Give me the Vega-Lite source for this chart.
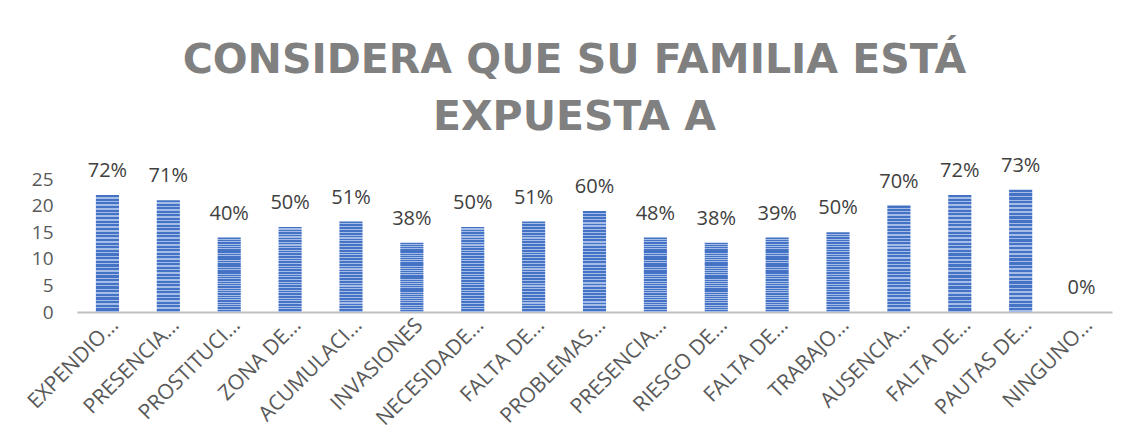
{
  "$schema": "https://vega.github.io/schema/vega-lite/v6.json",
  "width": 1035,
  "height": 133,
  "autosize": {"type": "none"},
  "padding": {"left": 77, "top": 179, "right": 24, "bottom": 136},
  "background": "#ffffff",
  "title": {
    "text": ["CONSIDERA QUE SU FAMILIA ESTÁ", "EXPUESTA A"],
    "font": "DejaVu Sans",
    "fontSize": 41,
    "fontWeight": "bold",
    "color": "#808080",
    "anchor": "middle",
    "dx": -20,
    "lineHeight": 57,
    "offset": 17
  },
  "config": {
    "view": {"stroke": null},
    "font": "Open Sans"
  },
  "data": {
    "values": [
      {"categoria": "EXPENDIO…", "cantidad": 22, "porcentaje": "72%"},
      {"categoria": "PRESENCIA…", "cantidad": 21, "porcentaje": "71%"},
      {"categoria": "PROSTITUCI…", "cantidad": 14, "porcentaje": "40%"},
      {"categoria": "ZONA DE…", "cantidad": 16, "porcentaje": "50%"},
      {"categoria": "ACUMULACI…", "cantidad": 17, "porcentaje": "51%"},
      {"categoria": "INVASIONES", "cantidad": 13, "porcentaje": "38%"},
      {"categoria": "NECESIDADE…", "cantidad": 16, "porcentaje": "50%"},
      {"categoria": "FALTA DE…", "cantidad": 17, "porcentaje": "51%"},
      {"categoria": "PROBLEMAS…", "cantidad": 19, "porcentaje": "60%"},
      {"categoria": "PRESENCIA… ", "cantidad": 14, "porcentaje": "48%"},
      {"categoria": "RIESGO DE…", "cantidad": 13, "porcentaje": "38%"},
      {"categoria": "FALTA DE… ", "cantidad": 14, "porcentaje": "39%"},
      {"categoria": "TRABAJO…", "cantidad": 15, "porcentaje": "50%"},
      {"categoria": "AUSENCIA…", "cantidad": 20, "porcentaje": "70%"},
      {"categoria": "FALTA DE…  ", "cantidad": 22, "porcentaje": "72%"},
      {"categoria": "PAUTAS DE…", "cantidad": 23, "porcentaje": "73%"},
      {"categoria": "NINGUNO…", "cantidad": 0, "porcentaje": "0%"}
    ]
  },
  "encoding": {
    "x": {
      "field": "categoria",
      "type": "nominal",
      "sort": null,
      "title": null,
      "scale": {"paddingInner": 0.62, "paddingOuter": 0.31},
      "axis": {
        "labelAngle": -45,
        "labelFontSize": 21,
        "labelColor": "#595959",
        "labelFont": "Open Sans",
        "labelPadding": 2,
        "labelLimit": 200,
        "ticks": false,
        "domainColor": "#bfbfbf",
        "domainWidth": 2
      }
    },
    "y": {
      "field": "cantidad",
      "type": "quantitative",
      "title": null,
      "scale": {"domain": [0, 25], "nice": false},
      "axis": {
        "values": [0, 5, 10, 15, 20, 25],
        "labelFontSize": 19,
        "labelColor": "#595959",
        "labelFont": "Open Sans",
        "labelPadding": 24,
        "ticks": false,
        "domain": false,
        "grid": false
      }
    }
  },
  "layer": [
    {
      "mark": {
        "type": "bar",
        "fill": {
          "gradient": "linear",
          "x1": 0, "y1": 0, "x2": 0, "y2": 1,
          "stops": [
            {"offset": 0, "color": "#4472C4"}, {"offset": 0.01875, "color": "#4472C4"}, {"offset": 0.01875, "color": "#A4BCE6"}, {"offset": 0.03125, "color": "#A4BCE6"},
            {"offset": 0.03125, "color": "#4472C4"}, {"offset": 0.05, "color": "#4472C4"}, {"offset": 0.05, "color": "#A4BCE6"}, {"offset": 0.0625, "color": "#A4BCE6"},
            {"offset": 0.0625, "color": "#4472C4"}, {"offset": 0.08125, "color": "#4472C4"}, {"offset": 0.08125, "color": "#A4BCE6"}, {"offset": 0.09375, "color": "#A4BCE6"},
            {"offset": 0.09375, "color": "#4472C4"}, {"offset": 0.1125, "color": "#4472C4"}, {"offset": 0.1125, "color": "#A4BCE6"}, {"offset": 0.125, "color": "#A4BCE6"},
            {"offset": 0.125, "color": "#4472C4"}, {"offset": 0.14375, "color": "#4472C4"}, {"offset": 0.14375, "color": "#A4BCE6"}, {"offset": 0.15625, "color": "#A4BCE6"},
            {"offset": 0.15625, "color": "#4472C4"}, {"offset": 0.175, "color": "#4472C4"}, {"offset": 0.175, "color": "#A4BCE6"}, {"offset": 0.1875, "color": "#A4BCE6"},
            {"offset": 0.1875, "color": "#4472C4"}, {"offset": 0.20625, "color": "#4472C4"}, {"offset": 0.20625, "color": "#A4BCE6"}, {"offset": 0.21875, "color": "#A4BCE6"},
            {"offset": 0.21875, "color": "#4472C4"}, {"offset": 0.2375, "color": "#4472C4"}, {"offset": 0.2375, "color": "#A4BCE6"}, {"offset": 0.25, "color": "#A4BCE6"},
            {"offset": 0.25, "color": "#4472C4"}, {"offset": 0.26875, "color": "#4472C4"}, {"offset": 0.26875, "color": "#A4BCE6"}, {"offset": 0.28125, "color": "#A4BCE6"},
            {"offset": 0.28125, "color": "#4472C4"}, {"offset": 0.3, "color": "#4472C4"}, {"offset": 0.3, "color": "#A4BCE6"}, {"offset": 0.3125, "color": "#A4BCE6"},
            {"offset": 0.3125, "color": "#4472C4"}, {"offset": 0.33125, "color": "#4472C4"}, {"offset": 0.33125, "color": "#A4BCE6"}, {"offset": 0.34375, "color": "#A4BCE6"},
            {"offset": 0.34375, "color": "#4472C4"}, {"offset": 0.3625, "color": "#4472C4"}, {"offset": 0.3625, "color": "#A4BCE6"}, {"offset": 0.375, "color": "#A4BCE6"},
            {"offset": 0.375, "color": "#4472C4"}, {"offset": 0.39375, "color": "#4472C4"}, {"offset": 0.39375, "color": "#A4BCE6"}, {"offset": 0.40625, "color": "#A4BCE6"},
            {"offset": 0.40625, "color": "#4472C4"}, {"offset": 0.425, "color": "#4472C4"}, {"offset": 0.425, "color": "#A4BCE6"}, {"offset": 0.4375, "color": "#A4BCE6"},
            {"offset": 0.4375, "color": "#4472C4"}, {"offset": 0.45625, "color": "#4472C4"}, {"offset": 0.45625, "color": "#A4BCE6"}, {"offset": 0.46875, "color": "#A4BCE6"},
            {"offset": 0.46875, "color": "#4472C4"}, {"offset": 0.4875, "color": "#4472C4"}, {"offset": 0.4875, "color": "#A4BCE6"}, {"offset": 0.5, "color": "#A4BCE6"},
            {"offset": 0.5, "color": "#4472C4"}, {"offset": 0.51875, "color": "#4472C4"}, {"offset": 0.51875, "color": "#A4BCE6"}, {"offset": 0.53125, "color": "#A4BCE6"},
            {"offset": 0.53125, "color": "#4472C4"}, {"offset": 0.55, "color": "#4472C4"}, {"offset": 0.55, "color": "#A4BCE6"}, {"offset": 0.5625, "color": "#A4BCE6"},
            {"offset": 0.5625, "color": "#4472C4"}, {"offset": 0.58125, "color": "#4472C4"}, {"offset": 0.58125, "color": "#A4BCE6"}, {"offset": 0.59375, "color": "#A4BCE6"},
            {"offset": 0.59375, "color": "#4472C4"}, {"offset": 0.6125, "color": "#4472C4"}, {"offset": 0.6125, "color": "#A4BCE6"}, {"offset": 0.625, "color": "#A4BCE6"},
            {"offset": 0.625, "color": "#4472C4"}, {"offset": 0.64375, "color": "#4472C4"}, {"offset": 0.64375, "color": "#A4BCE6"}, {"offset": 0.65625, "color": "#A4BCE6"},
            {"offset": 0.65625, "color": "#4472C4"}, {"offset": 0.675, "color": "#4472C4"}, {"offset": 0.675, "color": "#A4BCE6"}, {"offset": 0.6875, "color": "#A4BCE6"},
            {"offset": 0.6875, "color": "#4472C4"}, {"offset": 0.70625, "color": "#4472C4"}, {"offset": 0.70625, "color": "#A4BCE6"}, {"offset": 0.71875, "color": "#A4BCE6"},
            {"offset": 0.71875, "color": "#4472C4"}, {"offset": 0.7375, "color": "#4472C4"}, {"offset": 0.7375, "color": "#A4BCE6"}, {"offset": 0.75, "color": "#A4BCE6"},
            {"offset": 0.75, "color": "#4472C4"}, {"offset": 0.76875, "color": "#4472C4"}, {"offset": 0.76875, "color": "#A4BCE6"}, {"offset": 0.78125, "color": "#A4BCE6"},
            {"offset": 0.78125, "color": "#4472C4"}, {"offset": 0.8, "color": "#4472C4"}, {"offset": 0.8, "color": "#A4BCE6"}, {"offset": 0.8125, "color": "#A4BCE6"},
            {"offset": 0.8125, "color": "#4472C4"}, {"offset": 0.83125, "color": "#4472C4"}, {"offset": 0.83125, "color": "#A4BCE6"}, {"offset": 0.84375, "color": "#A4BCE6"},
            {"offset": 0.84375, "color": "#4472C4"}, {"offset": 0.8625, "color": "#4472C4"}, {"offset": 0.8625, "color": "#A4BCE6"}, {"offset": 0.875, "color": "#A4BCE6"},
            {"offset": 0.875, "color": "#4472C4"}, {"offset": 0.89375, "color": "#4472C4"}, {"offset": 0.89375, "color": "#A4BCE6"}, {"offset": 0.90625, "color": "#A4BCE6"},
            {"offset": 0.90625, "color": "#4472C4"}, {"offset": 0.925, "color": "#4472C4"}, {"offset": 0.925, "color": "#A4BCE6"}, {"offset": 0.9375, "color": "#A4BCE6"},
            {"offset": 0.9375, "color": "#4472C4"}, {"offset": 0.95625, "color": "#4472C4"}, {"offset": 0.95625, "color": "#A4BCE6"}, {"offset": 0.96875, "color": "#A4BCE6"},
            {"offset": 0.96875, "color": "#4472C4"}, {"offset": 0.9875, "color": "#4472C4"}, {"offset": 0.9875, "color": "#A4BCE6"}, {"offset": 1, "color": "#A4BCE6"}
          ]
        }
      }
    },
    {
      "mark": {
        "type": "text",
        "baseline": "alphabetic",
        "dy": -18,
        "fontSize": 20,
        "font": "Open Sans",
        "color": "#404040"
      },
      "encoding": {
        "text": {"field": "porcentaje", "type": "nominal"}
      }
    }
  ]
}
